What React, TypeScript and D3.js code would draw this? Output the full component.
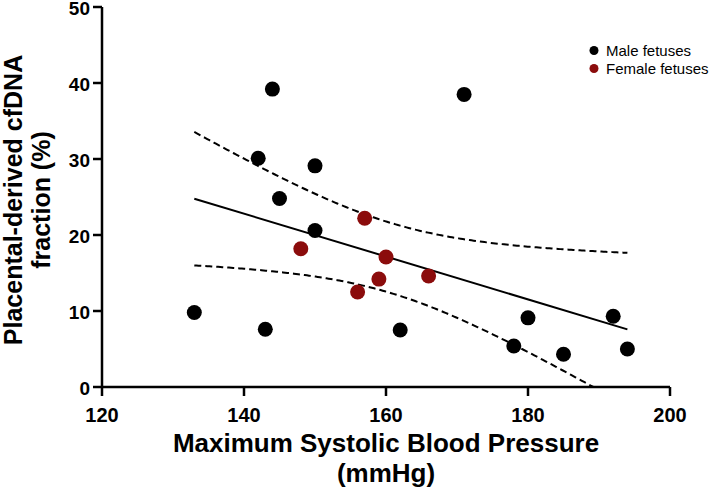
import React from "react";
import * as d3 from "d3";

const maleX = [133, 144, 142, 150, 145, 150, 143, 171, 162, 180, 178, 185, 192, 194];
const maleY = [9.8, 39.2, 30.1, 29.1, 24.8, 20.6, 7.6, 38.5, 7.5, 9.1, 5.4, 4.3, 9.3, 5.0];
const femaleX = [157, 148, 160, 159, 156, 166];
const femaleY = [22.2, 18.2, 17.1, 14.2, 12.5, 14.6];
const xTicks = [120, 140, 160, 180, 200];
const yTicks = [0, 10, 20, 30, 40, 50];
const legendLabels = ["Male fetuses", "Female fetuses"];
const T_CRIT = 2.101; // t(0.975, df = 18)

const W = 709;
const H = 489;
const FONT = "'Liberation Sans', Arial, Helvetica, sans-serif";
const RED = "#8b0c0c";

export default function App() {
  const x = d3.scaleLinear().domain([120, 200]).range([102, 670]);
  const y = d3.scaleLinear().domain([0, 50]).range([387, 7]);

  const allX = [...maleX, ...femaleX];
  const allY = [...maleY, ...femaleY];
  const n = allX.length;
  const mx = d3.mean(allX) as number;
  const my = d3.mean(allY) as number;
  let sxx = 0, sxy = 0, syy = 0;
  for (let i = 0; i < n; i++) {
    sxx += (allX[i] - mx) ** 2;
    sxy += (allX[i] - mx) * (allY[i] - my);
    syy += (allY[i] - my) ** 2;
  }
  const slope = sxy / sxx;
  const icpt = my - slope * mx;
  const s = Math.sqrt((syy - (sxy * sxy) / sxx) / (n - 2));
  const x0 = d3.min(allX) as number;
  const x1 = d3.max(allX) as number;
  const xs = d3.range(0, 201).map((i) => x0 + ((x1 - x0) * i) / 200);
  const fit = (v: number) => icpt + slope * v;
  const hw = (v: number) => T_CRIT * s * Math.sqrt(1 / n + (v - mx) ** 2 / sxx);
  const upper = xs.map((v) => [v, fit(v) + hw(v)] as [number, number]);
  const lower = xs
    .map((v) => [v, fit(v) - hw(v)] as [number, number])
    .filter((p) => p[1] >= 0);
  const last = lower[lower.length - 1];
  const nextIdx = lower.length;
  if (nextIdx < xs.length) {
    const nx = xs[nextIdx];
    const ny = fit(nx) - hw(nx);
    const t = last[1] / (last[1] - ny);
    lower.push([last[0] + (nx - last[0]) * t, 0]);
  }
  const line = d3
    .line<[number, number]>()
    .x((d) => x(d[0]))
    .y((d) => y(d[1]));

  const axisColor = "#000";

  return (
    <svg
      width={W}
      height={H}
      style={{ position: "absolute", left: 0, top: 0, background: "#fff" }}
      fontFamily={FONT}
    >
      <rect x={0} y={0} width={W} height={H} fill="#fff" />
      <path d={line(upper) || ""} fill="none" stroke="#000" strokeWidth={2} strokeDasharray="7,4" />
      <path d={line(lower) || ""} fill="none" stroke="#000" strokeWidth={2} strokeDasharray="7,4" />
      <path
        d={line([[x0, fit(x0)], [x1, fit(x1)]]) || ""}
        fill="none"
        stroke="#000"
        strokeWidth={2}
      />
      <line x1={x(120)} x2={x(200)} y1={y(0)} y2={y(0)} stroke={axisColor} strokeWidth={2.5} />
      <line x1={x(120)} x2={x(120)} y1={y(0)} y2={y(50)} stroke={axisColor} strokeWidth={2.5} />
      {xTicks.map((t) => (
        <g key={"xt" + t}>
          <line x1={x(t)} x2={x(t)} y1={y(0)} y2={y(0) + 9} stroke={axisColor} strokeWidth={2.5} />
          <text x={x(t)} y={y(0) + 35} textAnchor="middle" fontSize={20} fontWeight="bold" fill="#000">
            {t}
          </text>
        </g>
      ))}
      {yTicks.map((t) => (
        <g key={"yt" + t}>
          <line x1={x(120) - 9} x2={x(120)} y1={y(t)} y2={y(t)} stroke={axisColor} strokeWidth={2.5} />
          <text
            x={x(120) - 12}
            y={y(t) + 1.5}
            dy="0.36em"
            textAnchor="end"
            fontSize={19}
            fontWeight="bold"
            fill="#000"
          >
            {t}
          </text>
        </g>
      ))}
      {maleX.map((v, i) => (
        <circle key={"m" + i} cx={x(v)} cy={y(maleY[i])} r={7.5} fill="#000" />
      ))}
      {femaleX.map((v, i) => (
        <circle key={"f" + i} cx={x(v)} cy={y(femaleY[i])} r={7.5} fill={RED} />
      ))}
      {legendLabels.map((lab, i) => (
        <g key={lab}>
          <circle cx={594} cy={50.5 + i * 18} r={4.5} fill={i === 0 ? "#000" : RED} />
          <text x={606} y={50.5 + i * 18} dy="0.35em" fontSize={15} fill="#000">
            {lab}
          </text>
        </g>
      ))}
      <text x={386} y={452} textAnchor="middle" fontSize={26} fontWeight="bold" fill="#000">
        Maximum Systolic Blood Pressure
      </text>
      <text x={386} y={482} textAnchor="middle" fontSize={26} fontWeight="bold" fill="#000">
        (mmHg)
      </text>
      <text
        transform="translate(22,200) rotate(-90)"
        textAnchor="middle"
        fontSize={25}
        fontWeight="bold"
        fill="#000"
      >
        Placental-derived cfDNA
      </text>
      <text
        transform="translate(50,200) rotate(-90)"
        textAnchor="middle"
        fontSize={25}
        fontWeight="bold"
        fill="#000"
      >
        fraction (%)
      </text>
    </svg>
  );
}
